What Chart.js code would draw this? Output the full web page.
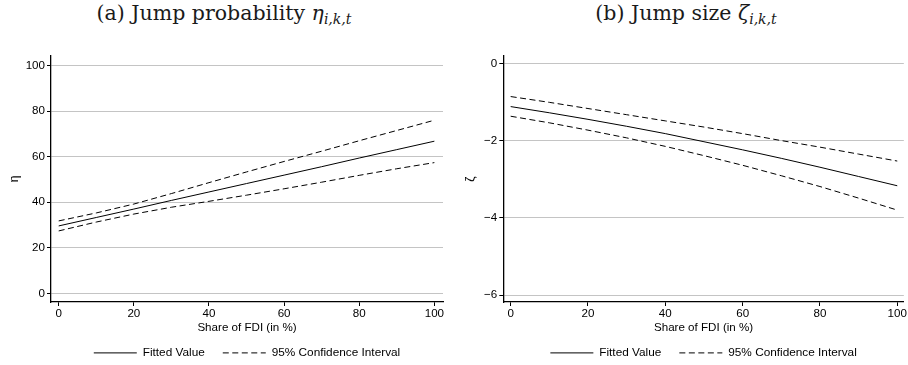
<!DOCTYPE html>
<html>
<head>
<meta charset="utf-8">
<script src="https://cdn.jsdelivr.net/npm/chart.js@4.4.1/dist/chart.umd.min.js"></script>
<style>
  body { margin: 0; background: #fff; width: 908px; height: 365px; overflow: hidden; position: relative; }
  .ttl { position: absolute; top: 1px; font-family: "DejaVu Serif", "Liberation Serif", serif; font-size: 20.5px; color: #1a1a1a; white-space: nowrap; transform: translateX(-50%); }
  .ttl i { font-style: italic; }
  .ttl sub { font-size: 14px; font-style: italic; vertical-align: -4px; }
  .pane { position: absolute; top: 30px; width: 454px; height: 340px; }
</style>
</head>
<body>
<div class="ttl" style="left:224px">(a) Jump probability <i>η</i><sub>i,k,t</sub></div>
<div class="ttl" style="left:686px">(b) Jump size <i>ζ</i><sub>i,k,t</sub></div>
<div class="pane" style="left:0"><canvas id="chart-a" width="454" height="340"></canvas></div>
<div class="pane" style="left:454px"><canvas id="chart-b" width="454" height="340"></canvas></div>

<script>
// Data
const fdiShare = [0, 10, 20, 30, 40, 50, 60, 70, 80, 90, 100];

const etaFit   = [29.6, 33.3, 37.0, 40.8, 44.5, 48.2, 51.9, 55.6, 59.4, 63.1, 66.8];
const etaUpper = [31.8, 35.3, 39.2, 43.8, 48.6, 53.3, 57.9, 62.4, 67.0, 71.5, 76.0];
const etaLower = [27.4, 31.3, 34.8, 37.8, 40.4, 43.1, 45.9, 48.8, 51.8, 54.7, 57.4];

const zetaFit   = [-1.12, -1.28, -1.45, -1.63, -1.82, -2.03, -2.24, -2.46, -2.69, -2.93, -3.17];
const zetaUpper = [-0.86, -1.01, -1.17, -1.33, -1.49, -1.65, -1.82, -2.00, -2.17, -2.35, -2.53];
const zetaLower = [-1.37, -1.54, -1.73, -1.93, -2.15, -2.39, -2.64, -2.91, -3.19, -3.49, -3.80];

const shareTicks = [0, 20, 40, 60, 80, 100];
const etaTicks = [0, 20, 40, 60, 80, 100];
const zetaTicks = [0, -2, -4, -6];
const legendLabels = ["Fitted Value", "95% Confidence Interval"];

// Style
const DASH = [6, 3.5];
const FONT = { family: "'Liberation Sans', Arial, sans-serif", size: 11.6 };
const LEGEND_FONT = { family: "'Liberation Sans', Arial, sans-serif", size: 11.8 };

function toPoints(ys) {
  return fdiShare.map((x, i) => ({ x: x, y: ys[i] }));
}

function lineSet(label, ys, dashed) {
  return {
    label: label,
    data: toPoints(ys),
    borderColor: "#000",
    borderWidth: 1,
    borderDash: dashed ? DASH : [],
    pointRadius: 0,
    fill: false,
    tension: 0
  };
}

function makeChart(id, p) {
  return new Chart(document.getElementById(id), {
    type: "line",
    data: {
      datasets: [
        lineSet(legendLabels[0], p.fit, false),
        lineSet(legendLabels[1], p.upper, true),
        lineSet(legendLabels[1], p.lower, true)
      ]
    },
    options: {
      responsive: false,
      animation: false,
      layout: { padding: { top: 26, right: p.padRight, left: 0, bottom: 1.2 } },
      plugins: {
        tooltip: { enabled: false },
        legend: {
          position: "bottom",
          fullSize: false,
          labels: {
            usePointStyle: true,
            pointStyleWidth: 43,
            padding: 18,
            color: "#000",
            font: LEGEND_FONT,
            generateLabels: () => legendLabels.map((t, i) => ({
              text: t,
              fillStyle: "#000",
              strokeStyle: "#000",
              lineWidth: 1,
              lineDash: i ? DASH : [],
              pointStyle: "line",
              hidden: false,
              datasetIndex: i
            }))
          }
        }
      },
      scales: {
        x: {
          type: "linear",
          min: p.xMin,
          max: p.xMax,
          afterBuildTicks: s => { s.ticks = shareTicks.map(v => ({ value: v })); },
          afterFit: s => { s.height = 27; },
          border: { color: "#000", width: 1.3 },
          grid: { drawOnChartArea: false, drawTicks: true, tickLength: 4, tickColor: "#000" },
          ticks: { color: "#000", font: FONT, padding: 1, maxRotation: 0 },
          title: { display: true, text: "Share of FDI (in %)", color: "#000", font: FONT, padding: { top: 0, bottom: -6 } }
        },
        y: {
          type: "linear",
          min: p.yMin,
          max: p.yMax,
          afterBuildTicks: s => { s.ticks = p.yTicks.map(v => ({ value: v })); },
          afterFit: s => { s.width = p.yWidth; },
          border: { color: "#000", width: 1.3 },
          grid: { color: "#c4c4c4", lineWidth: 1, drawTicks: true, tickLength: 4, tickColor: "#000" },
          ticks: {
            color: "#000",
            font: FONT,
            padding: 2,
            callback: v => String(v).replace("-", "\u2212")
          },
          title: { display: true, text: p.yTitle, color: "#000", font: { family: FONT.family, size: 12 }, padding: { top: p.titlePad, bottom: 0 } }
        }
      }
    }
  });
}

makeChart("chart-a", {
  fit: etaFit, upper: etaUpper, lower: etaLower,
  xMin: -2.05, xMax: 102.3,
  yMin: -3.8, yMax: 104.2, yTicks: etaTicks,
  yWidth: 51, padRight: 11, yTitle: "η", titlePad: 7
});

makeChart("chart-b", {
  fit: zetaFit, upper: zetaUpper, lower: zetaLower,
  xMin: -1.91, xMax: 101.7,
  yMin: -6.18, yMax: 0.19, yTicks: zetaTicks,
  yWidth: 49.3, padRight: 4, yTitle: "ζ", titlePad: 9.7
});
</script>
</body>
</html>
